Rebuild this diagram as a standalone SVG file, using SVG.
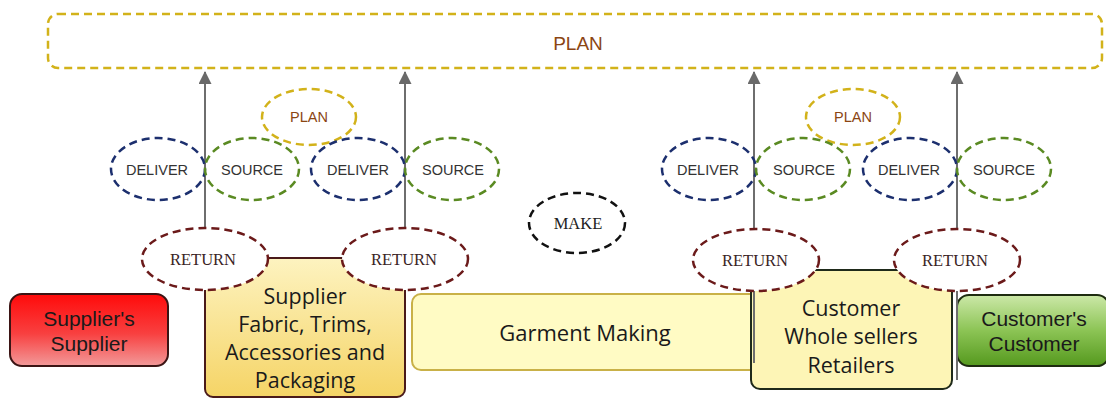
<svg xmlns="http://www.w3.org/2000/svg" width="1106" height="398" viewBox="0 0 1106 398">
<defs>
<linearGradient id="gRed" x1="0" y1="0" x2="0" y2="1"><stop offset="0" stop-color="#ff0a0a"/><stop offset="0.55" stop-color="#f84040"/><stop offset="1" stop-color="#f29a9a"/></linearGradient>
<linearGradient id="gSup" x1="0" y1="0" x2="0" y2="1"><stop offset="0" stop-color="#fdf3c0"/><stop offset="1" stop-color="#f5d466"/></linearGradient>
<linearGradient id="gGreen" x1="0" y1="0" x2="0" y2="1"><stop offset="0" stop-color="#cce8a8"/><stop offset="0.5" stop-color="#8cc455"/><stop offset="1" stop-color="#55991e"/></linearGradient>
<marker id="ah" markerWidth="13" markerHeight="13" refX="12" refY="6.5" orient="auto" markerUnits="userSpaceOnUse" viewBox="0 0 13 13"><path d="M0,0 L13,6.5 L0,13 Z" fill="#6a6a6a"/></marker>
</defs>
<style>
.dash{fill:none;stroke-width:2.5;stroke-dasharray:8 5}
.ell{fill:#fff;stroke-width:2.5;stroke-dasharray:8 5}
.sans{font-family:"Liberation Sans",Arial,sans-serif}
.serif{font-family:"Liberation Serif","Times New Roman",serif}
.box{font-family:"Open Sans","Noto Sans",sans-serif;font-size:21.5px;fill:#1a1a1a;text-anchor:middle}
.lbl{font-size:14.5px;fill:#333;text-anchor:middle}
.ret{font-size:16.5px;fill:#3a2424;text-anchor:middle}
.conn{stroke:#6e6e6e;stroke-width:2;fill:none}
</style>
<rect width="1106" height="398" fill="#fff"/>

<g id="plan-main">
<rect x="48" y="14" width="1054" height="54" rx="10" class="dash" stroke="#d2b21a"/>
<text x="578" y="50" class="sans" font-size="19" fill="#8b4513" text-anchor="middle">PLAN</text>
</g>

<g id="supplier-supplier">
<rect x="10" y="294" width="158" height="72" rx="12" fill="url(#gRed)" stroke="#3b1414" stroke-width="2"/>
<text class="sans" font-size="21" fill="#1a1a1a" text-anchor="middle"><tspan x="89" y="326">Supplier's</tspan><tspan x="89" y="351">Supplier</tspan></text>
</g>

<g id="garment-making">
<rect x="412" y="294" width="350" height="76" rx="9" fill="#fffbc4" stroke="#c9b148" stroke-width="2"/>
<text x="585" y="341" class="box" style="font-size:22px">Garment Making</text>
</g>

<g id="supplier">
<rect x="205" y="258" width="200" height="139" rx="8" fill="url(#gSup)" stroke="#4a1a1a" stroke-width="2"/>
<text class="box"><tspan x="305" y="304">Supplier</tspan><tspan x="305" y="332">Fabric, Trims,</tspan><tspan x="305" y="360">Accessories and</tspan><tspan x="305" y="388">Packaging</tspan></text>
</g>

<g id="customer">
<rect x="751" y="270" width="201" height="119" rx="9" fill="#fdf5b6" stroke="#1f2a1a" stroke-width="2"/>
<text class="box"><tspan x="851" y="316">Customer</tspan><tspan x="851" y="344">Whole sellers</tspan><tspan x="851" y="373">Retailers</tspan></text>
</g>

<g id="customer-customer">
<rect x="957" y="295" width="152" height="71" rx="12" fill="url(#gGreen)" stroke="#1e2c10" stroke-width="2"/>
<text class="sans" font-size="21" fill="#1a1a1a" text-anchor="middle"><tspan x="1034" y="326">Customer's</tspan><tspan x="1034" y="351">Customer</tspan></text>
</g>

<g id="connectors">
<line x1="205" y1="240" x2="205" y2="72" class="conn" marker-end="url(#ah)"/>
<line x1="405" y1="240" x2="405" y2="72" class="conn" marker-end="url(#ah)"/>
<line x1="754" y1="363" x2="754" y2="72" class="conn" marker-end="url(#ah)"/>
<line x1="957" y1="380" x2="957" y2="72" class="conn" marker-end="url(#ah)"/>
</g>

<g id="plan-left">
<ellipse cx="309" cy="117" rx="47" ry="28" class="dash" stroke="#d2b21a"/>
<text x="309" y="122" class="sans lbl" style="fill:#8b4513">PLAN</text>
</g>
<g id="plan-right">
<ellipse cx="853" cy="117" rx="47" ry="28" class="dash" stroke="#d2b21a"/>
<text x="853" y="122" class="sans lbl" style="fill:#8b4513">PLAN</text>
</g>

<g id="deliver-1"><ellipse cx="158" cy="169" rx="47" ry="31" class="dash" stroke="#1c2f6e"/><text x="157" y="175" class="sans lbl">DELIVER</text></g>
<g id="source-1"><ellipse cx="252" cy="169" rx="47" ry="31" class="dash" stroke="#5a8a22"/><text x="252" y="175" class="sans lbl">SOURCE</text></g>
<g id="deliver-2"><ellipse cx="358" cy="169" rx="47" ry="31" class="dash" stroke="#1c2f6e"/><text x="358" y="175" class="sans lbl">DELIVER</text></g>
<g id="source-2"><ellipse cx="452" cy="169" rx="47" ry="31" class="dash" stroke="#5a8a22"/><text x="453" y="175" class="sans lbl">SOURCE</text></g>
<g id="deliver-3"><ellipse cx="709" cy="169" rx="47" ry="31" class="dash" stroke="#1c2f6e"/><text x="708" y="175" class="sans lbl">DELIVER</text></g>
<g id="source-3"><ellipse cx="803" cy="169" rx="47" ry="31" class="dash" stroke="#5a8a22"/><text x="804" y="175" class="sans lbl">SOURCE</text></g>
<g id="deliver-4"><ellipse cx="910" cy="169" rx="47" ry="31" class="dash" stroke="#1c2f6e"/><text x="909" y="175" class="sans lbl">DELIVER</text></g>
<g id="source-4"><ellipse cx="1004" cy="169" rx="47" ry="31" class="dash" stroke="#5a8a22"/><text x="1004" y="175" class="sans lbl">SOURCE</text></g>

<g id="make"><ellipse cx="577" cy="223" rx="48" ry="30" class="dash" stroke="#111"/><text x="578" y="229" class="serif ret" style="fill:#222">MAKE</text></g>

<g id="return-1"><ellipse cx="205" cy="259" rx="63" ry="31" class="ell" stroke="#6b1a1a"/><text x="203" y="265" class="serif ret">RETURN</text></g>
<g id="return-2"><ellipse cx="405" cy="259" rx="63" ry="31" class="ell" stroke="#6b1a1a"/><text x="404" y="265" class="serif ret">RETURN</text></g>
<g id="return-3"><ellipse cx="756" cy="260" rx="63" ry="31" class="ell" stroke="#6b1a1a"/><text x="755" y="266" class="serif ret">RETURN</text></g>
<g id="return-4"><ellipse cx="957" cy="260" rx="63" ry="31" class="ell" stroke="#6b1a1a"/><text x="955" y="266" class="serif ret">RETURN</text></g>
</svg>
